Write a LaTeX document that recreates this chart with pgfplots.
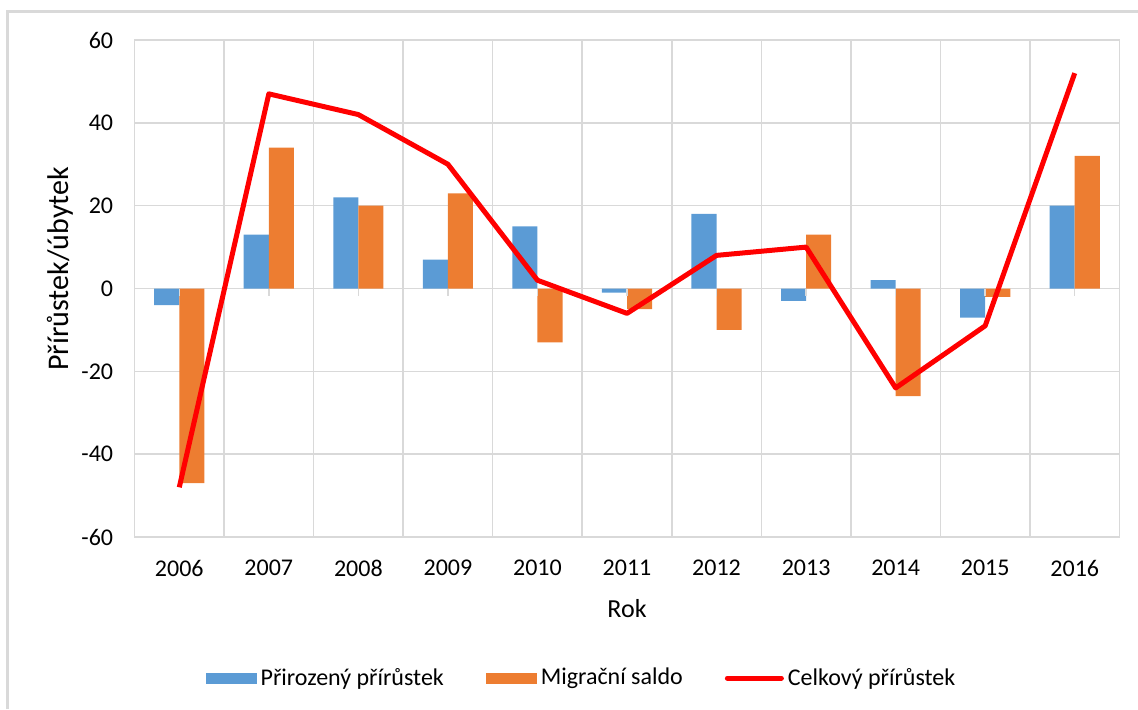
\documentclass[border=0pt]{standalone}
\usepackage{fontspec}
\setmainfont{Carlito}
\usepackage{pgfplots}
\pgfplotsset{compat=1.18}
\definecolor{cblue}{HTML}{5B9BD5}
\definecolor{corange}{HTML}{ED7D31}
\definecolor{cgrid}{HTML}{D9D9D9}

% rok, prirozeny prirustek, migracni saldo, celkovy prirustek
\pgfplotstableread{
x pr mig cel
0 -4 -47 -48
1 13 34 47
2 22 20 42
3 7 23 30
4 15 -13 2
5 -1 -5 -6
6 18 -10 8
7 -3 13 10
8 2 -26 -24
9 -7 -2 -9
10 20 32 52
}\data

\begin{document}
\begin{tikzpicture}
\useasboundingbox (0,0) rectangle (569pt,-354.5pt);
\draw[cgrid, line width=1.5pt] (3.5pt,-354.5pt) -- (3.5pt,-5.5pt) -- (569pt,-5.5pt);
\begin{axis}[
  at={(67.25pt,-268.5pt)}, anchor=south west,
  width=492.5pt, height=248.5pt, scale only axis,
  xmin=-0.5, xmax=10.5, ymin=-60, ymax=60,
  ytick={-60,-40,...,60},
  xtick={0,...,10},
  xticklabels={2006,2007,2008,2009,2010,2011,2012,2013,2014,2015,2016},
  minor xtick={0.5,1.5,...,9.5},
  ymajorgrids, xminorgrids,
  grid style={cgrid, line width=0.75pt},
  minor grid style={cgrid, line width=0.75pt},
  axis line style={cgrid, line width=0.75pt},
  tick style={draw=none},
  /pgf/number format/assume math mode=true,
  tick label style={font=\fontsize{12}{14}\selectfont},
  yticklabel style={anchor=east, inner sep=0pt, xshift=-10.5pt},
  xticklabel style={anchor=center, inner sep=0pt, yshift=-15.5pt},
  xlabel={Rok},
  xlabel style={font=\fontsize{13}{15}\selectfont},
  every axis x label/.append style={at={(axis description cs:0.5,-0.144)}, anchor=center},
  clip=false,
  legend columns=3,
  legend cell align=left,
  legend style={draw=none, at={(0.4548,-0.2837)}, anchor=center,
    font=\fontsize{12}{14}\selectfont,
    /tikz/every even column/.append style={column sep=19pt}},
]
\addplot[fill=cblue, draw=none, ybar, bar width=0.28, bar shift=-0.14,
  legend image code/.code={\fill[cblue] (0pt,-2.75pt) rectangle (25.5pt,2.75pt);}]
  table[x=x, y=pr] {\data};
\addlegendentry{Přirozený přírůstek}
\addplot[fill=corange, draw=none, ybar, bar width=0.28, bar shift=0.14,
  legend image code/.code={\fill[corange] (0pt,-2.75pt) rectangle (25.5pt,2.75pt);}]
  table[x=x, y=mig] {\data};
\addlegendentry{Migrační saldo}
\addplot[red, line width=2.5pt, line join=round, mark=none,
  legend image code/.code={\draw[red, line width=2.5pt, line cap=round] (0pt,0pt) -- (27pt,0pt);}]
  table[x=x, y=cel] {\data};
\addlegendentry{Celkový přírůstek}
\pgfplotsinvokeforeach{0,...,10}{
  \draw[cgrid, line width=0.75pt] (axis cs:#1,0) -- ++(0pt,-3.5pt);
}
\node[rotate=90, anchor=center, inner sep=0pt, font=\fontsize{15}{17}\selectfont]
  at (axis description cs:-0.0756,0.54) {Přírůstek/úbytek};
\end{axis}
\end{tikzpicture}
\end{document}
